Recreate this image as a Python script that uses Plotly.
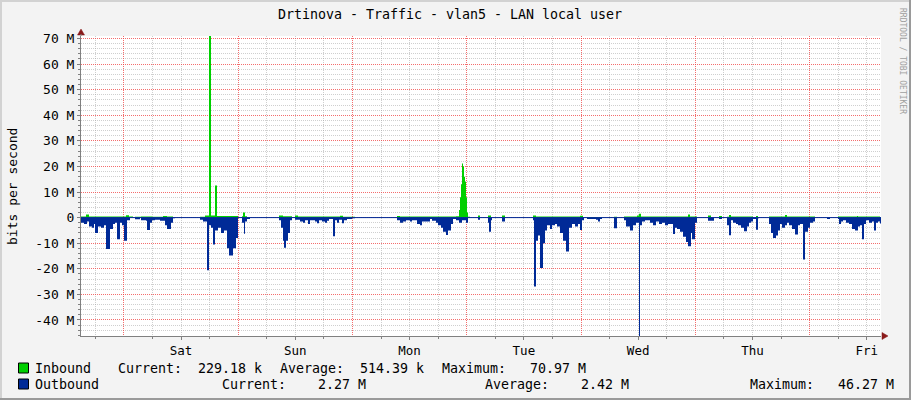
import plotly.graph_objects as go

# ---------------- data (time in hours since start of the 7-day window, values in Mbit/s) ----------------
out_t = [0.0, 0.63, 1.26, 1.68, 2.31, 2.73, 2.94, 3.57, 4.2, 4.83, 5.25, 6.09, 6.72, 7.14, 7.56, 8.19,
         8.61, 9.03, 9.66, 10.29, 11.34, 12.39, 12.6, 13.65, 13.86, 14.49, 14.91, 15.54, 16.59, 17.64,
         18.06, 18.9, 19.32, 19.74, 24.99, 25.62, 26.46, 26.88, 27.3, 27.72, 28.14, 28.77, 29.4, 30.03,
         30.66, 31.08, 31.92, 32.55, 32.97, 33.81, 34.23, 34.44, 34.86, 35.49, 41.58, 42.0, 42.42, 42.63,
         43.05, 43.47, 43.89, 44.31, 44.94, 45.99, 46.62, 47.04, 47.67, 48.09, 49.14, 49.56, 49.98, 50.61,
         51.24, 51.66, 52.08, 52.92, 53.34, 53.76, 54.18, 54.81, 55.23, 55.86, 56.91, 57.54, 66.36, 66.99,
         67.62, 68.25, 69.09, 69.51, 70.56, 71.19, 71.61, 72.24, 73.29, 73.71, 74.55, 74.97, 75.6, 76.02,
         76.65, 77.07, 77.7, 78.12, 78.75, 79.38, 80.01, 80.85, 81.27, 83.37, 83.79, 85.47, 85.68, 86.1,
         86.31, 88.41, 89.04, 94.92, 95.13, 95.55, 95.97, 96.39, 97.02, 97.44, 97.86, 98.49, 98.91, 99.54,
         99.96, 100.59, 101.22, 101.85, 102.48, 103.11, 103.74, 104.37, 104.79, 105.21, 105.63, 106.26,
         108.15, 108.57, 108.99, 109.41, 111.93, 112.56, 114.03, 114.45, 115.29, 115.92, 116.55, 117.18,
         117.39, 117.81, 118.44, 119.49, 120.12, 120.75, 121.38, 122.01, 122.64, 123.27, 124.32, 124.74,
         125.16, 125.79, 126.42, 127.05, 127.47, 128.1, 128.31, 128.94, 129.36, 131.67, 132.93, 133.98,
         134.61, 135.66, 136.08, 136.5, 136.92, 137.55, 137.97, 138.6, 139.23, 139.86, 140.28, 140.7,
         141.12, 141.75, 142.17, 142.38, 144.48, 144.9, 145.32, 145.95, 146.37, 146.79, 147.21, 147.84,
         148.26, 148.68, 149.31, 149.94, 150.57, 150.99, 151.62, 152.04, 152.67, 153.09, 153.72, 154.14,
         156.66, 157.29, 158.97, 159.18, 159.6, 160.02, 160.65, 161.28, 161.91, 162.54, 163.17, 163.59,
         164.01, 164.43, 164.85, 165.48, 166.11, 166.53, 166.95, 167.37, 167.79, 168.0]
out_v = [-2.0, -2.5, -1.5, -3.5, -4.0, -2.5, -6.0, -3.5, -4.0, -3.0, -12.3, -4.5, -2.5, -2.0, -8.5, -2.0,
         -3.0, -9.0, -1.0, -0.1, -0.6, -0.1, -1.0, -1.2, -4.8, -2.0, -1.0, -0.8, -1.2, -3.0,
         -4.5, -2.0, -0.3, -0.1, -0.8, -1.5, -20.6, -3.0, -4.0, -10.5, -5.0, -4.0, -6.0, -5.0,
         -12.0, -14.8, -12.0, -8.0, -0.1, -2.0, -6.3, -1.5, -0.5, -0.1, -1.0, -4.0, -9.0, -11.8,
         -9.0, -6.0, -1.0, -0.1, -0.8, -1.5, -2.0, -1.0, -2.5, -1.0, -1.5, -2.2, -1.0, -1.5,
         -2.0, -1.2, -0.5, -7.3, -1.0, -2.0, -0.8, -2.2, -1.0, -0.5, -0.3, -0.1, -1.0, -2.0,
         -1.5, -1.0, -1.5, -1.0, -2.5, -3.0, -1.5, -1.5, -0.5, -1.2, -2.0, -3.0, -4.0, -5.5,
         -6.8, -5.0, -2.5, -0.5, -1.0, -2.0, -1.0, -2.0, -0.1, -0.8, -0.1, -2.0, -5.5, -1.0,
         -0.1, -1.5, -0.1, -1.0, -26.9, -9.0, -7.0, -19.7, -10.0, -5.0, -3.0, -4.5, -3.0, -2.5,
         -3.5, -6.0, -9.0, -13.2, -4.0, -2.5, -3.5, -2.5, -4.8, -1.0, -0.1, -0.5,
         -0.8, -1.5, -0.5, -0.1, -4.2, -0.1, -1.0, -3.5, -5.0, -3.0, -2.0, -46.27,
         -3.0, -1.5, -1.0, -2.0, -3.0, -1.5, -2.5, -2.0, -3.0, -2.5, -6.4, -4.0,
         -4.5, -5.5, -7.5, -9.5, -11.2, -6.0, -8.5, -2.0, -0.1, -1.2, -0.1, -0.5,
         -0.1, -3.0, -6.9, -1.0, -2.0, -2.5, -3.0, -4.0, -5.3, -3.5, -2.0, -1.5,
         -0.5, -4.7, -0.3, -0.1, -2.5, -6.0, -8.0, -7.0, -5.0, -2.5, -4.0, -3.0,
         -2.0, -3.0, -4.5, -6.6, -3.0, -2.5, -16.4, -5.5, -4.0, -2.0, -1.5, -0.1,
         -0.5, -0.1, -0.5, -2.5, -1.5, -1.0, -2.0, -2.5, -4.5, -5.0, -3.5, -3.0,
         -8.5, -2.5, -1.0, -2.0, -1.5, -5.0, -2.0, -1.5, -2.27, -2.27]

in_t = [0.0, 1.05, 1.68, 9.45, 10.08, 10.92, 11.34, 12.6, 14.91, 17.22, 18.06, 19.32, 24.99, 26.04, 26.88,
        27.3, 28.14, 28.56, 32.97, 33.81, 34.02, 34.44, 34.86, 41.58, 42.42, 44.31, 44.94, 45.57, 54.39,
        55.02, 57.54, 66.36, 66.99, 78.75, 79.38, 79.59, 79.8, 80.01, 80.22, 80.43, 80.64, 80.85, 81.06,
        81.27, 81.69, 83.37, 83.79, 85.47, 86.1, 88.41, 89.04, 94.92, 95.55, 104.79, 105.42, 106.26,
        109.41, 111.93, 112.56, 114.03, 116.76, 117.18, 117.6, 127.47, 127.89, 129.36, 131.67, 132.3,
        133.98, 134.61, 135.66, 136.08, 136.5, 141.12, 141.75, 142.17, 144.48, 147.84, 148.26, 154.14,
        158.97, 162.96, 163.17, 167.79, 168.0]
in_v = [0.4, 1.2, 0.4, 0.9, 0.4, 0.0, 0.3, 0.4, 0.3, 0.6, 0.4, 0.0, 0.3, 0.8, 70.97,
        0.8, 12.5, 0.6, 0.0, 0.5, 2.0, 0.5, 0.0, 0.8, 0.5, 0.2, 0.8, 0.4, 0.7,
        0.3, 0.0, 0.6, 0.4, 0.5, 3.0, 8.0, 13.0, 21.1, 20.0, 16.0, 14.0, 8.0, 2.0,
        0.3, 0.0, 0.8, 0.0, 0.8, 0.0, 0.8, 0.0, 0.8, 0.4, 0.7, 0.0, 0.2,
        0.0, 0.3, 0.0, 0.4, 0.8, 1.5, 0.4, 1.2, 0.4, 0.0, 0.8, 0.0,
        0.6, 0.0, 0.3, 1.0, 0.4, 0.0, 0.6, 0.0, 0.4, 1.0, 0.4, 0.0,
        0.4, 0.6, 0.4, 0.23, 0.23]

day_tick_h = [21, 45, 69, 93, 117, 141, 165]
day_labels = ["Sat", "Sun", "Mon", "Tue", "Wed", "Thu", "Fri"]
major_grid_h = [9, 33, 57, 81, 105, 129, 153]

y_tick_vals = [70, 60, 50, 40, 30, 20, 10, 0, -10, -20, -30, -40]
y_tick_text = ["70 M", "60 M", "50 M", "40 M", "30 M", "20 M", "10 M", "0",
               "-10 M", "-20 M", "-30 M", "-40 M"]
y_min, y_max = -46.27, 70.97

legend_names = ["Inbound", "Outbound"]
legend_colors = ["#00CF00", "#002A97"]
legend_current = ["229.18 k", "2.27 M"]
legend_average = ["514.39 k", "2.42 M"]
legend_maximum = ["70.97 M", "46.27 M"]

title = "Drtinova - Traffic - vlan5 - LAN local user"
y_title = "bits per second"
watermark = "RRDTOOL / TOBI OETIKER"

# ---------------- figure ----------------
MONO = "DejaVu Sans Mono"
W, H = 911, 400
L, R, T, B = 81, 30, 36, 64
PW, PH = W - L - R, H - T - B

def px(x):
    return (x - L) / PW

def py(y):
    return (H - B - y) / PH

# minor grid positions (every 6 h / every 2 M), leaving out the major ones
x_minor = [h for h in range(3, 168, 6) if h not in major_grid_h and h not in day_tick_h]
y_minor = [v for v in range(-46, 71, 2) if v % 10 != 0]

fig = go.Figure()
fig.add_trace(go.Scatter(x=in_t, y=in_v, mode="lines", line=dict(width=0, shape="hv"),
                         fill="tozeroy", fillcolor=legend_colors[0], hoverinfo="skip",
                         showlegend=False, xaxis="x2"))
fig.add_trace(go.Scatter(x=out_t, y=out_v, mode="lines", line=dict(width=0, shape="hv"),
                         fill="tozeroy", fillcolor=legend_colors[1], hoverinfo="skip",
                         showlegend=False))

grey_grid = "rgba(160,160,160,0.5)"
red_grid = "rgba(240,60,60,0.75)"
dots = "1px,1px"

fig.update_layout(
    width=W, height=H,
    margin=dict(l=L, r=R, t=T, b=B, pad=0, autoexpand=False),
    paper_bgcolor="#F3F3F3", plot_bgcolor="#FFFFFF",
    showlegend=False,
    font=dict(family=MONO, size=13, color="#000000"),
    title=dict(text=title, x=450 / W, xanchor="center", xref="container",
               y=1 - 14 / H, yanchor="middle", yref="container",
               font=dict(family=MONO, size=13.3, color="#000000")),
    xaxis=dict(range=[0, 168], tickvals=day_tick_h, ticktext=day_labels, automargin=False,
               showgrid=True, gridcolor=grey_grid, griddash=dots, gridwidth=1,
               minor=dict(tickmode="array", tickvals=x_minor, showgrid=True, gridcolor=grey_grid,
                          griddash=dots, ticks="outside", ticklen=2, tickcolor="#808080"),
               ticks="outside", ticklen=3, tickcolor="#808080",
               showline=True, linecolor="#808080", linewidth=1, zeroline=False,
               tickfont=dict(family=MONO, size=12.5, color="#000000"), fixedrange=True),
    xaxis2=dict(range=[0, 168], overlaying="x", anchor="y", side="bottom", automargin=False,
                tickvals=major_grid_h, showticklabels=False, ticks="",
                showgrid=True, gridcolor=red_grid, griddash=dots, gridwidth=1,
                showline=False, zeroline=False, fixedrange=True),
    yaxis=dict(range=[y_min, y_max], tickvals=y_tick_vals, ticktext=y_tick_text, automargin=False,
               showgrid=True, gridcolor=red_grid, griddash=dots, gridwidth=1,
               minor=dict(tickmode="array", tickvals=y_minor, showgrid=True, gridcolor=grey_grid,
                          griddash=dots, ticks="outside", ticklen=2, tickcolor="#808080"),
               ticks="outside", ticklen=3, tickcolor="#808080",
               showline=True, linecolor="#808080", linewidth=1, zeroline=False,
               tickfont=dict(family=MONO, size=13, color="#000000"), fixedrange=True),
)

shapes = []
# zero line (outbound border)
shapes.append(dict(type="line", xref="paper", yref="y", x0=0, x1=1, y0=0, y1=0,
                   line=dict(color=legend_colors[1], width=1), layer="above"))
# arrows
arrow_col = "#8A1A1A"
shapes.append(dict(type="path", xref="paper", yref="paper", xsizemode="pixel", ysizemode="pixel",
                   xanchor=1, yanchor=0, path="M 1,-3.5 L 1,3.5 L 7,0 Z",
                   fillcolor=arrow_col, line=dict(color=arrow_col, width=0.5), layer="above"))
shapes.append(dict(type="path", xref="paper", yref="paper", xsizemode="pixel", ysizemode="pixel",
                   xanchor=0, yanchor=1, path="M -3.5,1 L 3.5,1 L 0,7 Z",
                   fillcolor=arrow_col, line=dict(color=arrow_col, width=0.5), layer="above"))
shapes.append(dict(type="path", xref="paper", yref="paper", xsizemode="pixel", ysizemode="pixel",
                   xanchor=0, yanchor=1, path="M 0,0 L 0,2",
                   line=dict(color="#808080", width=1), layer="above"))
# legend squares
for i, col in enumerate(legend_colors):
    yc = 368 + 16 * i
    shapes.append(dict(type="rect", xref="paper", yref="paper",
                       x0=px(18.5), x1=px(28.5), y0=py(yc + 5), y1=py(yc - 5),
                       fillcolor=col, line=dict(color="#000000", width=1)))
# frame of the image
shapes.append(dict(type="line", xref="paper", yref="paper", x0=px(910), x1=px(910),
                   y0=py(400), y1=py(0), line=dict(color="#9A9A9A", width=2)))
shapes.append(dict(type="line", xref="paper", yref="paper", x0=px(0), x1=px(911),
                   y0=py(399), y1=py(399), line=dict(color="#9A9A9A", width=2)))
shapes.append(dict(type="line", xref="paper", yref="paper", x0=px(1), x1=px(1),
                   y0=py(398), y1=py(0), line=dict(color="#D2D2D2", width=2)))
shapes.append(dict(type="line", xref="paper", yref="paper", x0=px(0), x1=px(909),
                   y0=py(1), y1=py(1), line=dict(color="#D2D2D2", width=2)))
fig.update_layout(shapes=shapes)

ann = []
ann.append(dict(text=y_title, xref="paper", yref="paper", x=px(12), y=py(187),
                textangle=-90, showarrow=False, xanchor="center", yanchor="middle",
                font=dict(family=MONO, size=13, color="#000000")))
ann.append(dict(text=watermark, xref="paper", yref="paper", x=px(903), y=py(61),
                textangle=90, showarrow=False, xanchor="center", yanchor="middle",
                font=dict(family=MONO, size=8, color="#A0A0A0")))
row_x = [[34, 117, 279, 441], [34, 221, 484, 749]]
for i in range(2):
    yc = 368 + 16 * i
    cur = "Current:" + legend_current[i].rjust(10)
    avg = "Average:" + legend_average[i].rjust(10)
    mx = "Maximum:" + legend_maximum[i].rjust(10)
    for xpos, txt in zip(row_x[i], [legend_names[i], cur, avg, mx]):
        ann.append(dict(text=txt.replace(" ", "&nbsp;"), xref="paper", yref="paper",
                        x=px(xpos), y=py(yc), xanchor="left", yanchor="middle",
                        showarrow=False, borderpad=0,
                        font=dict(family=MONO, size=13.3, color="#000000")))
fig.update_layout(annotations=ann)

fig.write_html("out.html", config={"displayModeBar": False, "staticPlot": True},
               post_script="document.body.style.margin='0';document.body.style.padding='0';")
